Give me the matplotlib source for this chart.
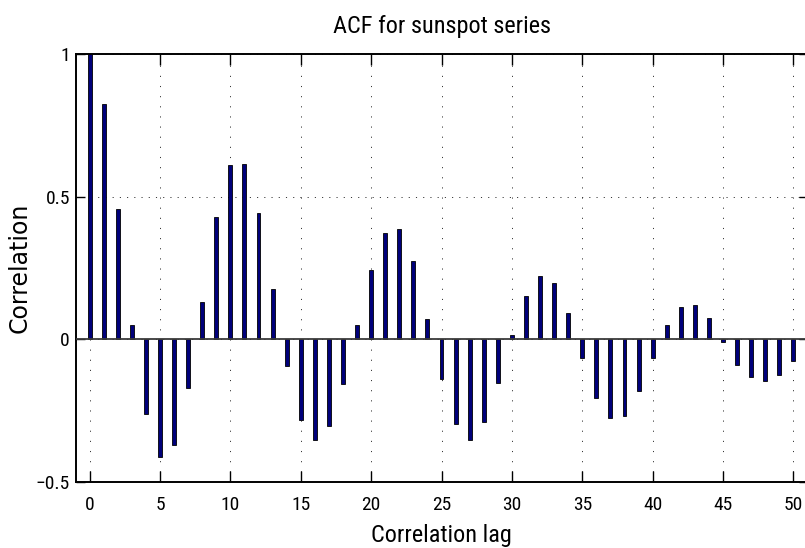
import matplotlib
matplotlib.use("Agg")
import matplotlib.pyplot as plt
from matplotlib import font_manager
import numpy as np

# ---- data ----
lags = list(range(0, 51))
acf = [1.0, 0.825, 0.456, 0.049, -0.264, -0.413, -0.372, -0.171, 0.131, 0.429,
       0.609, 0.613, 0.444, 0.175, -0.094, -0.282, -0.352, -0.304, -0.158, 0.049,
       0.242, 0.371, 0.386, 0.274, 0.071, -0.139, -0.298, -0.353, -0.289, -0.153,
       0.016, 0.153, 0.223, 0.198, 0.090, -0.066, -0.207, -0.278, -0.269, -0.182,
       -0.066, 0.049, 0.112, 0.119, 0.074, -0.009, -0.089, -0.133, -0.147, -0.125,
       -0.075]
xticks = [0, 5, 10, 15, 20, 25, 30, 35, 40, 45, 50]
xtick_labels = ["0", "5", "10", "15", "20", "25", "30", "35", "40", "45", "50"]
yticks = [-0.5, 0, 0.5, 1]
ytick_labels = ["\u22120.5", "0", "0.5", "1"]
title = "ACF for sunspot series"
xlabel = "Correlation lag"
ylabel = "Correlation"

installed = {f.name for f in font_manager.fontManager.ttflist}
narrow_name = None
for cand in ["Liberation Sans Narrow", "Roboto Condensed", "Open Sans Condensed"]:
    if cand in installed:
        narrow_name = cand
        break
if narrow_name is not None:
    fam = [narrow_name, "Liberation Sans", "DejaVu Sans"]
    big, small = 17.5, 14
else:
    fam = ["Liberation Sans", "DejaVu Sans"]
    big, small = 16, 12.5

plt.rcParams["lines.scale_dashes"] = False
plt.rcParams["font.family"] = fam

W, H = 805, 548
fig = plt.figure(figsize=(W / 100, H / 100), dpi=100)
left_px, right_px, top_px, bot_px = 75.5, 807.5, 54.0, 481.7
ax = fig.add_axes([left_px / W, 1 - bot_px / H, (right_px - left_px) / W, (bot_px - top_px) / H])

ax.set_xlim(-1, 51)
ax.set_ylim(-0.5, 1)

# grid
for xt in xticks:
    ax.axvline(xt, color="#333333", lw=0.7, ls=(0, (0.8, 6.5)), zorder=0)
for yt in yticks:
    ax.axhline(yt, color="#333333", lw=0.7, ls=(0, (0.8, 4.4)), zorder=0)

ax.bar(lags, acf, width=0.28, color="#00007A", edgecolor="black", linewidth=0.6, zorder=2)
ax.axhline(0, color="#3a3a3a", lw=1.3, zorder=3)

ax.set_xticks(xticks)
ax.set_xticklabels(xtick_labels)
ax.set_yticks(yticks)
ax.set_yticklabels(ytick_labels)

ax.tick_params(axis="x", direction="in", length=8, width=1.0, top=True, bottom=True,
               labelsize=small, pad=10)
ax.tick_params(axis="y", direction="in", length=6.5, width=1.0, left=True, right=True,
               labelsize=small, pad=4)

for s in ax.spines.values():
    s.set_linewidth(1.4)
    s.set_color("black")

ax.set_title(title, fontsize=big, y=1 + (54 - 33.3) / (bot_px - top_px), pad=0, va="baseline")
ax.set_xlabel(xlabel, fontsize=big, va="baseline")
ax.xaxis.set_label_coords(0.5, (bot_px - 541.7) / (bot_px - top_px))
ax.set_ylabel(ylabel, fontsize=17, family=["DejaVu Sans"], va="center")
ax.yaxis.set_label_coords((20 - left_px) / (right_px - left_px), 0.5)

fig.savefig("out.png", dpi=100)
